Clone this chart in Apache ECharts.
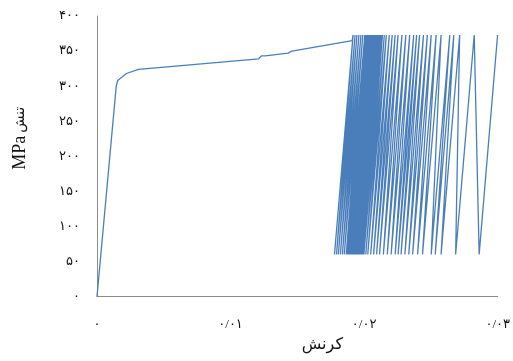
<!DOCTYPE html>
<html>
<head>
<meta charset="utf-8">
<script src="https://cdn.jsdelivr.net/npm/echarts@6/dist/echarts.min.js"></script>
<style>html,body{margin:0;padding:0;background:#fff}#c{width:513px;height:361px}</style>
</head>
<body>
<div id="c"></div>
<script>
// Monotonic part of the curve (strain, stress MPa)
const preStrain = [0, 0.00144, 0.00155, 0.0022, 0.0031, 0.0121, 0.01215, 0.0123, 0.01225, 0.0126, 0.0143, 0.0146, 0.0191, 0.01917];
const preStress = [0, 300, 308, 318, 324, 339, 339.5, 343, 341, 343, 347, 350, 365, 373];

// Cyclic part: valley and peak of every cycle
const valleyStrain = [0.01778, 0.01793, 0.01807, 0.01822, 0.01837, 0.01851, 0.01866, 0.01873, 0.01880, 0.01888,
  0.01895, 0.01902, 0.01910, 0.01917, 0.01924, 0.01932, 0.01939, 0.01946, 0.01954, 0.01961,
  0.01968, 0.01976, 0.01983, 0.01990, 0.01998, 0.02012, 0.02027, 0.02049, 0.02071, 0.02093,
  0.02115, 0.02144, 0.02173, 0.02202, 0.02232, 0.02254, 0.02276, 0.02305, 0.02334, 0.02363,
  0.02400, 0.02437, 0.02502, 0.02532, 0.02576, 0.02685, 0.02861];
const peakStrain = [0.01917, 0.01932, 0.01946, 0.01961, 0.01976, 0.01990, 0.02005, 0.02012, 0.02019, 0.02027,
  0.02034, 0.02041, 0.02049, 0.02056, 0.02063, 0.02071, 0.02078, 0.02085, 0.02093, 0.02100,
  0.02107, 0.02115, 0.02122, 0.02129, 0.02137, 0.02151, 0.02166, 0.02188, 0.02210, 0.02232,
  0.02254, 0.02283, 0.02312, 0.02341, 0.02371, 0.02393, 0.02415, 0.02444, 0.02473, 0.02502,
  0.02539, 0.02576, 0.02641, 0.02671, 0.02715, 0.02824, 0.02999];
const valleyStress = [60, 60, 60, 60, 60, 60, 60, 60, 60, 60, 60, 60, 60, 60, 60, 60, 60, 60, 60, 60,
  60, 60, 60, 60, 60, 60, 60, 60, 60, 60, 60, 60, 60, 60, 60, 60, 60, 60, 60, 60,
  60, 60, 60, 60, 60, 60, 60];
const peakStress = [373, 373, 373, 373, 373, 373, 373, 373, 373, 373, 373, 373, 373, 373, 373, 373, 373, 373, 373, 373,
  373, 373, 373, 373, 373, 373, 373, 373, 373, 373, 373, 373, 373, 373, 373, 373, 373, 373, 373, 373,
  373, 373, 373, 373, 373, 373, 373];

const xTickLabels = ['۰', '۰/۰۱', '۰/۰۲', '۰/۰۳'];
const yTickLabels = ['۰', '۵۰', '۱۰۰', '۱۵۰', '۲۰۰', '۲۵۰', '۳۰۰', '۳۵۰', '۴۰۰'];
const xTitle = 'کرنش';
const yTitleUnit = 'MPa';
const yTitleWord = 'تنش';

const pts = [];
for (let i = 0; i < preStrain.length; i++) pts.push([preStrain[i], preStress[i]]);
for (let i = 0; i < valleyStrain.length; i++) {
  pts.push([valleyStrain[i], valleyStress[i]]);
  pts.push([peakStrain[i], peakStress[i]]);
}

const font = '"Liberation Serif", "DejaVu Sans", serif';
const chart = echarts.init(document.getElementById('c'), null, {renderer: 'canvas'});
chart.setOption({
  animation: false,
  backgroundColor: '#fff',
  grid: {left: 97, right: 6, top: 16, bottom: 64.5, containLabel: false},
  xAxis: {
    type: 'value', min: 0, max: 0.03, interval: 0.01,
    axisLine: {show: true, lineStyle: {color: '#8c8c8c', width: 1}},
    axisTick: {show: false}, splitLine: {show: false},
    axisLabel: {margin: 22, color: '#111', fontSize: 13, fontFamily: font,
      formatter: v => xTickLabels[Math.round(v / 0.01)]},
    name: xTitle, nameLocation: 'middle', nameGap: 37,
    nameTextStyle: {color: '#111', fontSize: 16, fontFamily: font, padding: [0, 0, 0, 50]}
  },
  yAxis: {
    type: 'value', min: 0, max: 400, interval: 50,
    axisLine: {show: true, lineStyle: {color: '#8c8c8c', width: 1}},
    axisTick: {show: false}, splitLine: {show: false},
    axisLabel: {margin: 17, color: '#111', fontSize: 13, fontFamily: font,
      formatter: v => yTickLabels[Math.round(v / 50)]},
    name: '{a|' + yTitleUnit + '} {b|' + yTitleWord + '}', nameLocation: 'middle', nameGap: 68,
    nameTextStyle: {color: '#111', fontFamily: font, padding: [0, 0, 0, 36],
      rich: {a: {fontSize: 18, fontFamily: font, color: '#111'}, b: {fontSize: 14, fontFamily: font, color: '#111'}}}
  },
  series: [{
    type: 'line', data: pts, showSymbol: false, symbol: 'none', clip: false,
    lineStyle: {color: '#4a7ebb', width: 1.3}
  }]
});
</script>
</body>
</html>
